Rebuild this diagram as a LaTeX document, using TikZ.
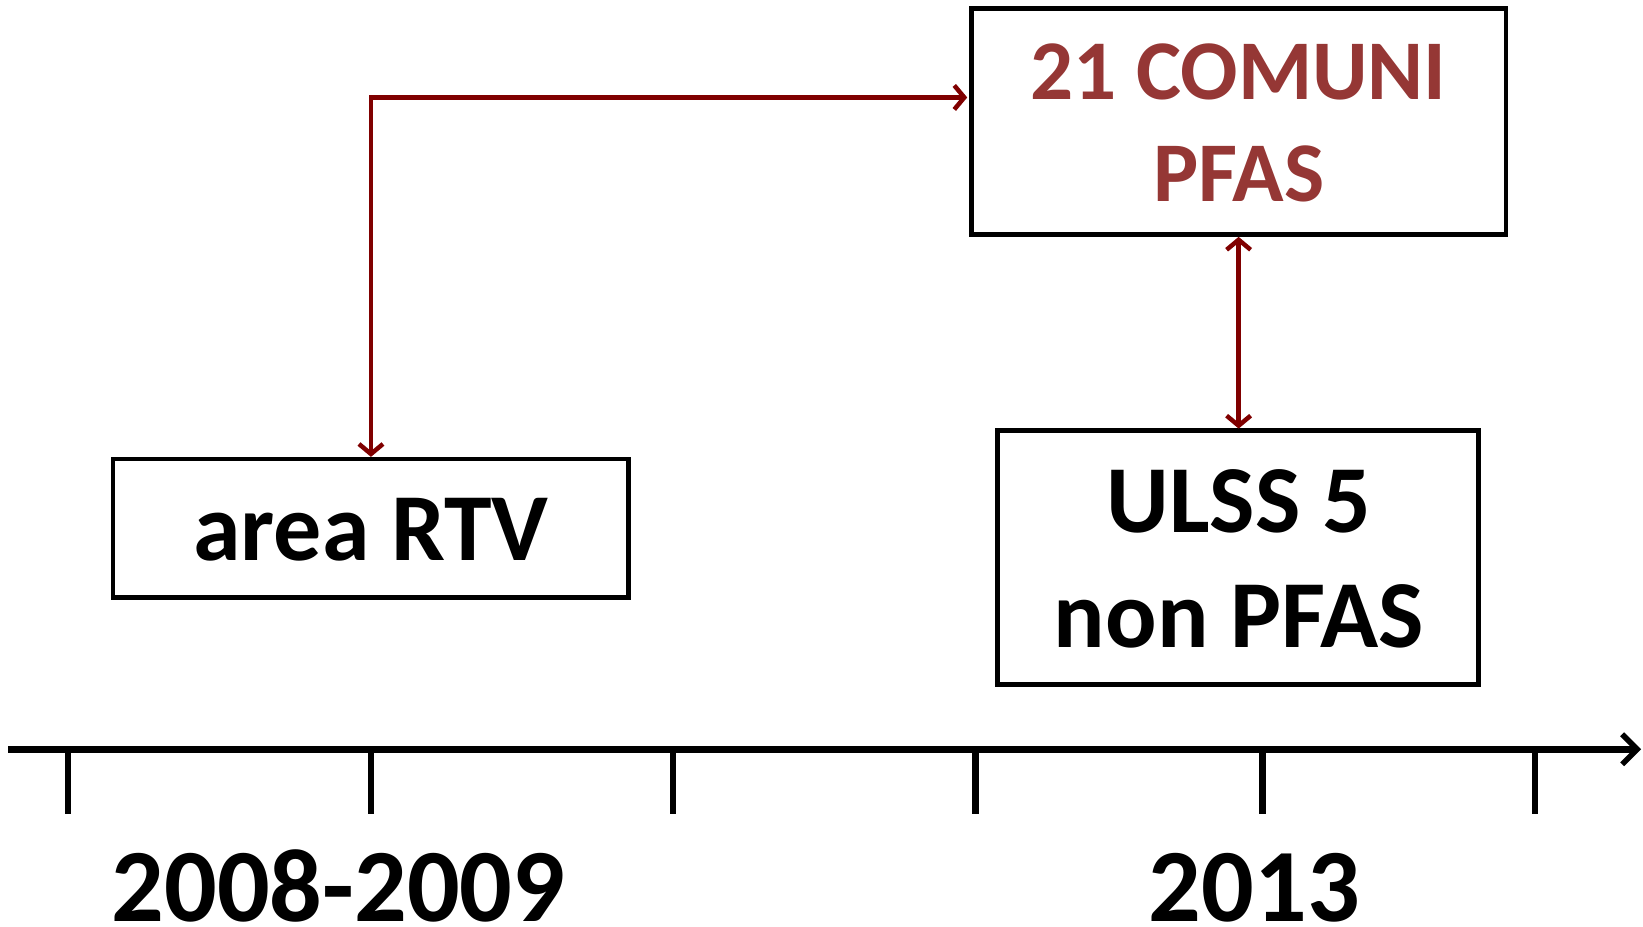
\documentclass[tikz,border=0pt]{standalone}
\usepackage{fontspec}
\setmainfont{Carlito}
\usetikzlibrary{arrows.meta}
\definecolor{arrred}{HTML}{800000}
\definecolor{txtred}{HTML}{953735}
\begin{document}
\begin{tikzpicture}[x=1.0479pt,y=-1.0479pt,
  box/.style={draw=black,line width=4.6pt},
  redtip/.tip={Straight Barb[length=10pt,width=24pt,line width=4.5pt]},
  conn/.style={draw=arrred,line width=4.5pt,arrows={redtip-redtip}},
  lbl/.style={font=\bfseries\fontsize{96}{110}\selectfont,anchor=base,inner sep=0pt},
  redlbl/.style={lbl,text=txtred,font=\bfseries\fontsize{85}{100}\selectfont},
  yearlbl/.style={lbl,font=\bfseries\fontsize{104}{120}\selectfont},
  tick/.style={line width=6.5pt}]
\useasboundingbox (0,0) rectangle (1567.9,884.6);
% boxes
\draw[box] (108,438) rectangle (600,570);
\draw[box] (927,8) rectangle (1437,224);
\draw[box] (952,411) rectangle (1411,653);
\coordinate (rtvtop) at (354,436);
\coordinate (corner) at (354,93);
\coordinate (comleft) at (923,93);
\coordinate (combot) at (1182,226);
\coordinate (ulsstop) at (1182,409);
% texts
\node[lbl] (t1) at (354,535) {area RTV};
\node[redlbl] (t2) at (1182,95) {21 COMUNI};
\node[redlbl] (t3) at (1182,192) {PFAS};
\node[lbl] (t4) at (1182,508) {ULSS 5};
\node[lbl] (t5) at (1182,618) {non PFAS};
\node[yearlbl] (y1) at (323,879) {2008-2009};
\node[yearlbl] (y2) at (1197,879) {2013};
% connectors
\draw[conn] (rtvtop) -- (corner) -- (comleft);
\draw[conn] (combot) -- (ulsstop);
% axis
\coordinate (ax0) at (8,715);
\coordinate (ax1) at (1566,715);
\draw[line width=7.3pt,arrows={-Straight Barb[length=15pt,width=30pt,line width=5.5pt]}] (ax0) -- (ax1);
\foreach \x in {65,354,642,931,1205,1465} \draw[tick] (\x,715) -- (\x,777);
\end{tikzpicture}
\end{document}
